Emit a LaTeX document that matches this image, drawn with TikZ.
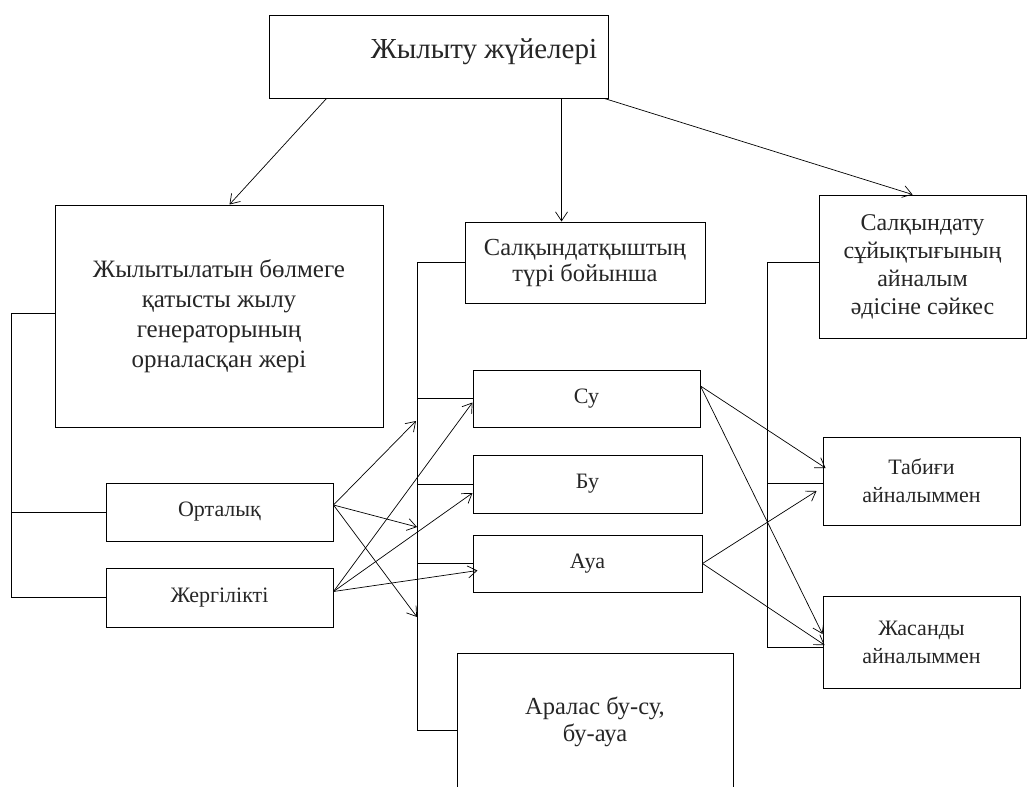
\documentclass[tikz,border=0pt]{standalone}
\usepackage{fontspec}
\setmainfont{Liberation Serif}
\usetikzlibrary{arrows.meta, positioning, calc}

\tikzset{
  blk/.style={draw, line width=1pt, align=center, inner sep=0pt, text=black!85},
  conn/.style={line width=0.7pt},
  arr/.style={conn, -{Straight Barb[length=9pt,width=12pt]}}
}

\begin{document}
\begin{tikzpicture}[x=1pt, y=-1pt, font=\fontsize{22}{28}\selectfont]
  \clip (0,0) rectangle (1028,787);
  \fill[white] (0,0) rectangle (1028,787);

  % Top level
  \node[blk, minimum width=339pt, minimum height=83pt] (top) at (438.5,56.5) {};
  \node[anchor=base, text=black!85, font=\fontsize{29}{34}\selectfont] (toptxt) at (484,58) {Жылыту жүйелері};

  % Three classification headers
  \node[blk, minimum width=328pt, minimum height=222pt, font=\fontsize{25}{30}\selectfont] (lhs) at (219,316)
    {Жылытылатын бөлмеге\\қатысты жылу\\генераторының\\орналасқан жері};
  \node[blk, minimum width=240pt, minimum height=81pt, font=\fontsize{24.5}{26}\selectfont] (mid) at (585,262.5)
    {Салқындатқыштың\\түрі бойынша};
  \node[blk, minimum width=207pt, minimum height=143pt, font=\fontsize{24}{28}\selectfont] (rhs) at (922.5,266.5)
    {Салқындату\\сұйықтығының\\айналым\\әдісіне сәйкес};

  % Location
  \node[blk, minimum width=227pt, minimum height=58pt] (ort) at (219.5,512) {Орталық};
  \node[blk, minimum width=227pt, minimum height=59pt] (zher) at (219.5,597.5) {Жергілікті};

  % Coolant type
  \node[blk, minimum width=227pt, minimum height=57pt] (su) at (586.5,398.5) {Су};
  \node[blk, minimum width=229pt, minimum height=58pt] (bu) at (587.5,484) {Бу};
  \node[blk, minimum width=229pt, minimum height=57pt] (aua) at (587.5,563.5) {Ауа};
  \node[blk, minimum width=276pt, minimum height=138pt, font=\fontsize{24.5}{27}\selectfont] (aral) at (595,722)
    {Аралас бу-су,\\бу-ауа};

  % Circulation
  \node[blk, minimum width=197pt, minimum height=88pt] (tab) at (921.5,481) {Табиғи\\айналыммен};
  \node[blk, minimum width=197pt, minimum height=92pt] (zhas) at (921.5,642) {Жасанды\\айналыммен};

  % Brackets
  \coordinate (lbar) at (11,0);
  \coordinate (mbar) at (417,0);
  \coordinate (rbar) at (767,0);
  \draw[conn] ([yshift=3pt]lhs.west) -- ([yshift=3pt]lhs.west -| lbar) -- (zher.west -| lbar) -- (zher.west);
  \draw[conn] (ort.west) -- (ort.west -| lbar);
  \draw[conn] (mid.west) -- (mid.west -| mbar) -- ([yshift=-8pt]aral.west -| mbar) -- ([yshift=-8pt]aral.west);
  \foreach \n in {su,bu,aua}
    \draw[conn] (\n.west) -- (\n.west -| mbar);
  \draw[conn] ([yshift=4.5pt]rhs.west) -- ([yshift=4.5pt]rhs.west -| rbar) -- ([yshift=-5pt]zhas.west -| rbar) -- ([yshift=-5pt]zhas.west);
  \draw[conn] ([yshift=-2pt]tab.west) -- ([yshift=-2pt]tab.west -| rbar);

  % From the top box
  \draw[arr] ([xshift=58pt]top.south west) -- ([xshift=175pt]lhs.north west);
  \draw[arr] ([xshift=293pt]top.south west) -- ([xshift=97pt]mid.north west);
  \draw[arr] ([xshift=-4pt]top.south east) -- ([xshift=94pt]rhs.north west);

  % Location to coolant type
  \coordinate (m1) at (416,421);
  \coordinate (m2) at (417,527);
  \coordinate (m3) at (417,617);
  \foreach \t in {m1,m2,m3}
    \draw[arr] ([yshift=7pt]ort.east) -- (\t);
  \draw[arr] ([yshift=6pt]zher.east) -- ([yshift=-4pt]su.west);
  \draw[arr] ([yshift=6pt]zher.east) -- ([yshift=-9pt]bu.west);
  \draw[arr] ([yshift=6pt]zher.east) -- ([xshift=5pt,yshift=-7pt]aua.west);

  % Coolant type to circulation
  \draw[arr] ([yshift=12.5pt]su.east) -- ([xshift=3pt,yshift=13pt]tab.west);
  \draw[arr] ([yshift=12.5pt]su.east) -- ([yshift=8pt]zhas.west);
  \draw[arr] (aua.east) -- ([xshift=-6pt,yshift=-10pt]tab.west);
  \draw[arr] (aua.east) -- ([xshift=2pt,yshift=-3pt]zhas.west);
\end{tikzpicture}
\end{document}
